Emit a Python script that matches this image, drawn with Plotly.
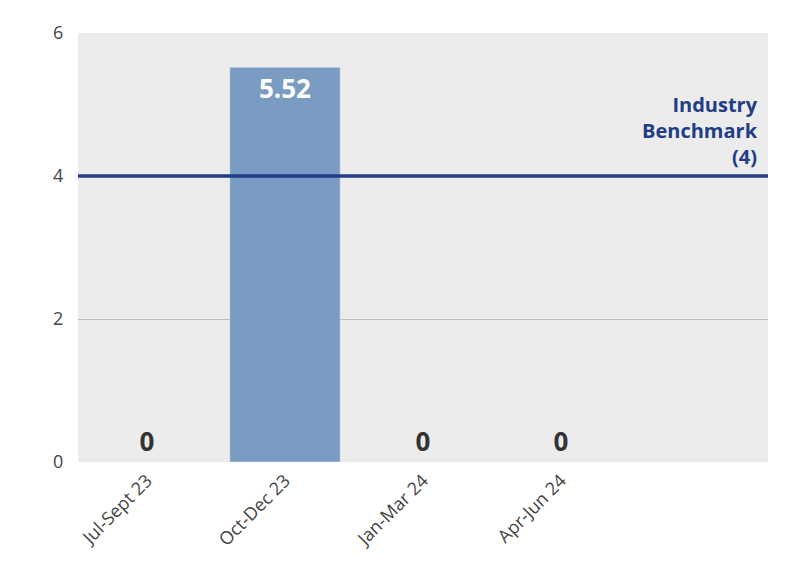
import plotly.graph_objects as go

categories = ["Jul-Sept 23", "Oct-Dec 23", "Jan-Mar 24", "Apr-Jun 24", " "]
values = [0, 5.52, 0, 0, None]
benchmark = 4
labels = ["<b>0</b>", "<b>5.52</b>", "<b>0</b>", "<b>0</b>", ""]

fig = go.Figure()
fig.add_bar(x=categories, y=values, marker_color="#7a9cc2", width=0.8,
            text=labels, cliponaxis=False,
            textposition=["outside", "inside", "outside", "outside", "none"],
            insidetextanchor="end",
            outsidetextfont=dict(size=26, color="#333333", family="Open Sans"),
            insidetextfont=dict(size=26, color="white", family="Open Sans"),
            hoverinfo="skip")
fig.add_hline(y=benchmark, line=dict(color="#223c88", width=3.5))
fig.add_annotation(x=1, xref="paper", xanchor="right", y=benchmark, yanchor="bottom",
                   text="<b>Industry<br>Benchmark<br>(4)</b>", showarrow=False, align="right",
                   font=dict(size=20, color="#223c88", family="Open Sans"), xshift=-8, yshift=4)
fig.update_layout(
    width=796, height=575, showlegend=False,
    paper_bgcolor="white", plot_bgcolor="#ececec",
    margin=dict(l=70, r=36, t=16, b=121),
    font=dict(family="Open Sans", size=17, color="#444444"),
    bargap=0.2,
)
fig.update_xaxes(type="category", categoryorder="array", categoryarray=categories,
                 tickangle=-45, tickfont=dict(size=18), ticks="outside", ticklen=0)
fig.update_yaxes(range=[0, 6], tickvals=[0, 2, 4, 6], gridcolor="#bdbdbd",
                 zeroline=False, tickfont=dict(size=18), ticks="outside",
                 tickcolor="white", ticklen=10)
fig.write_html("out.html")
